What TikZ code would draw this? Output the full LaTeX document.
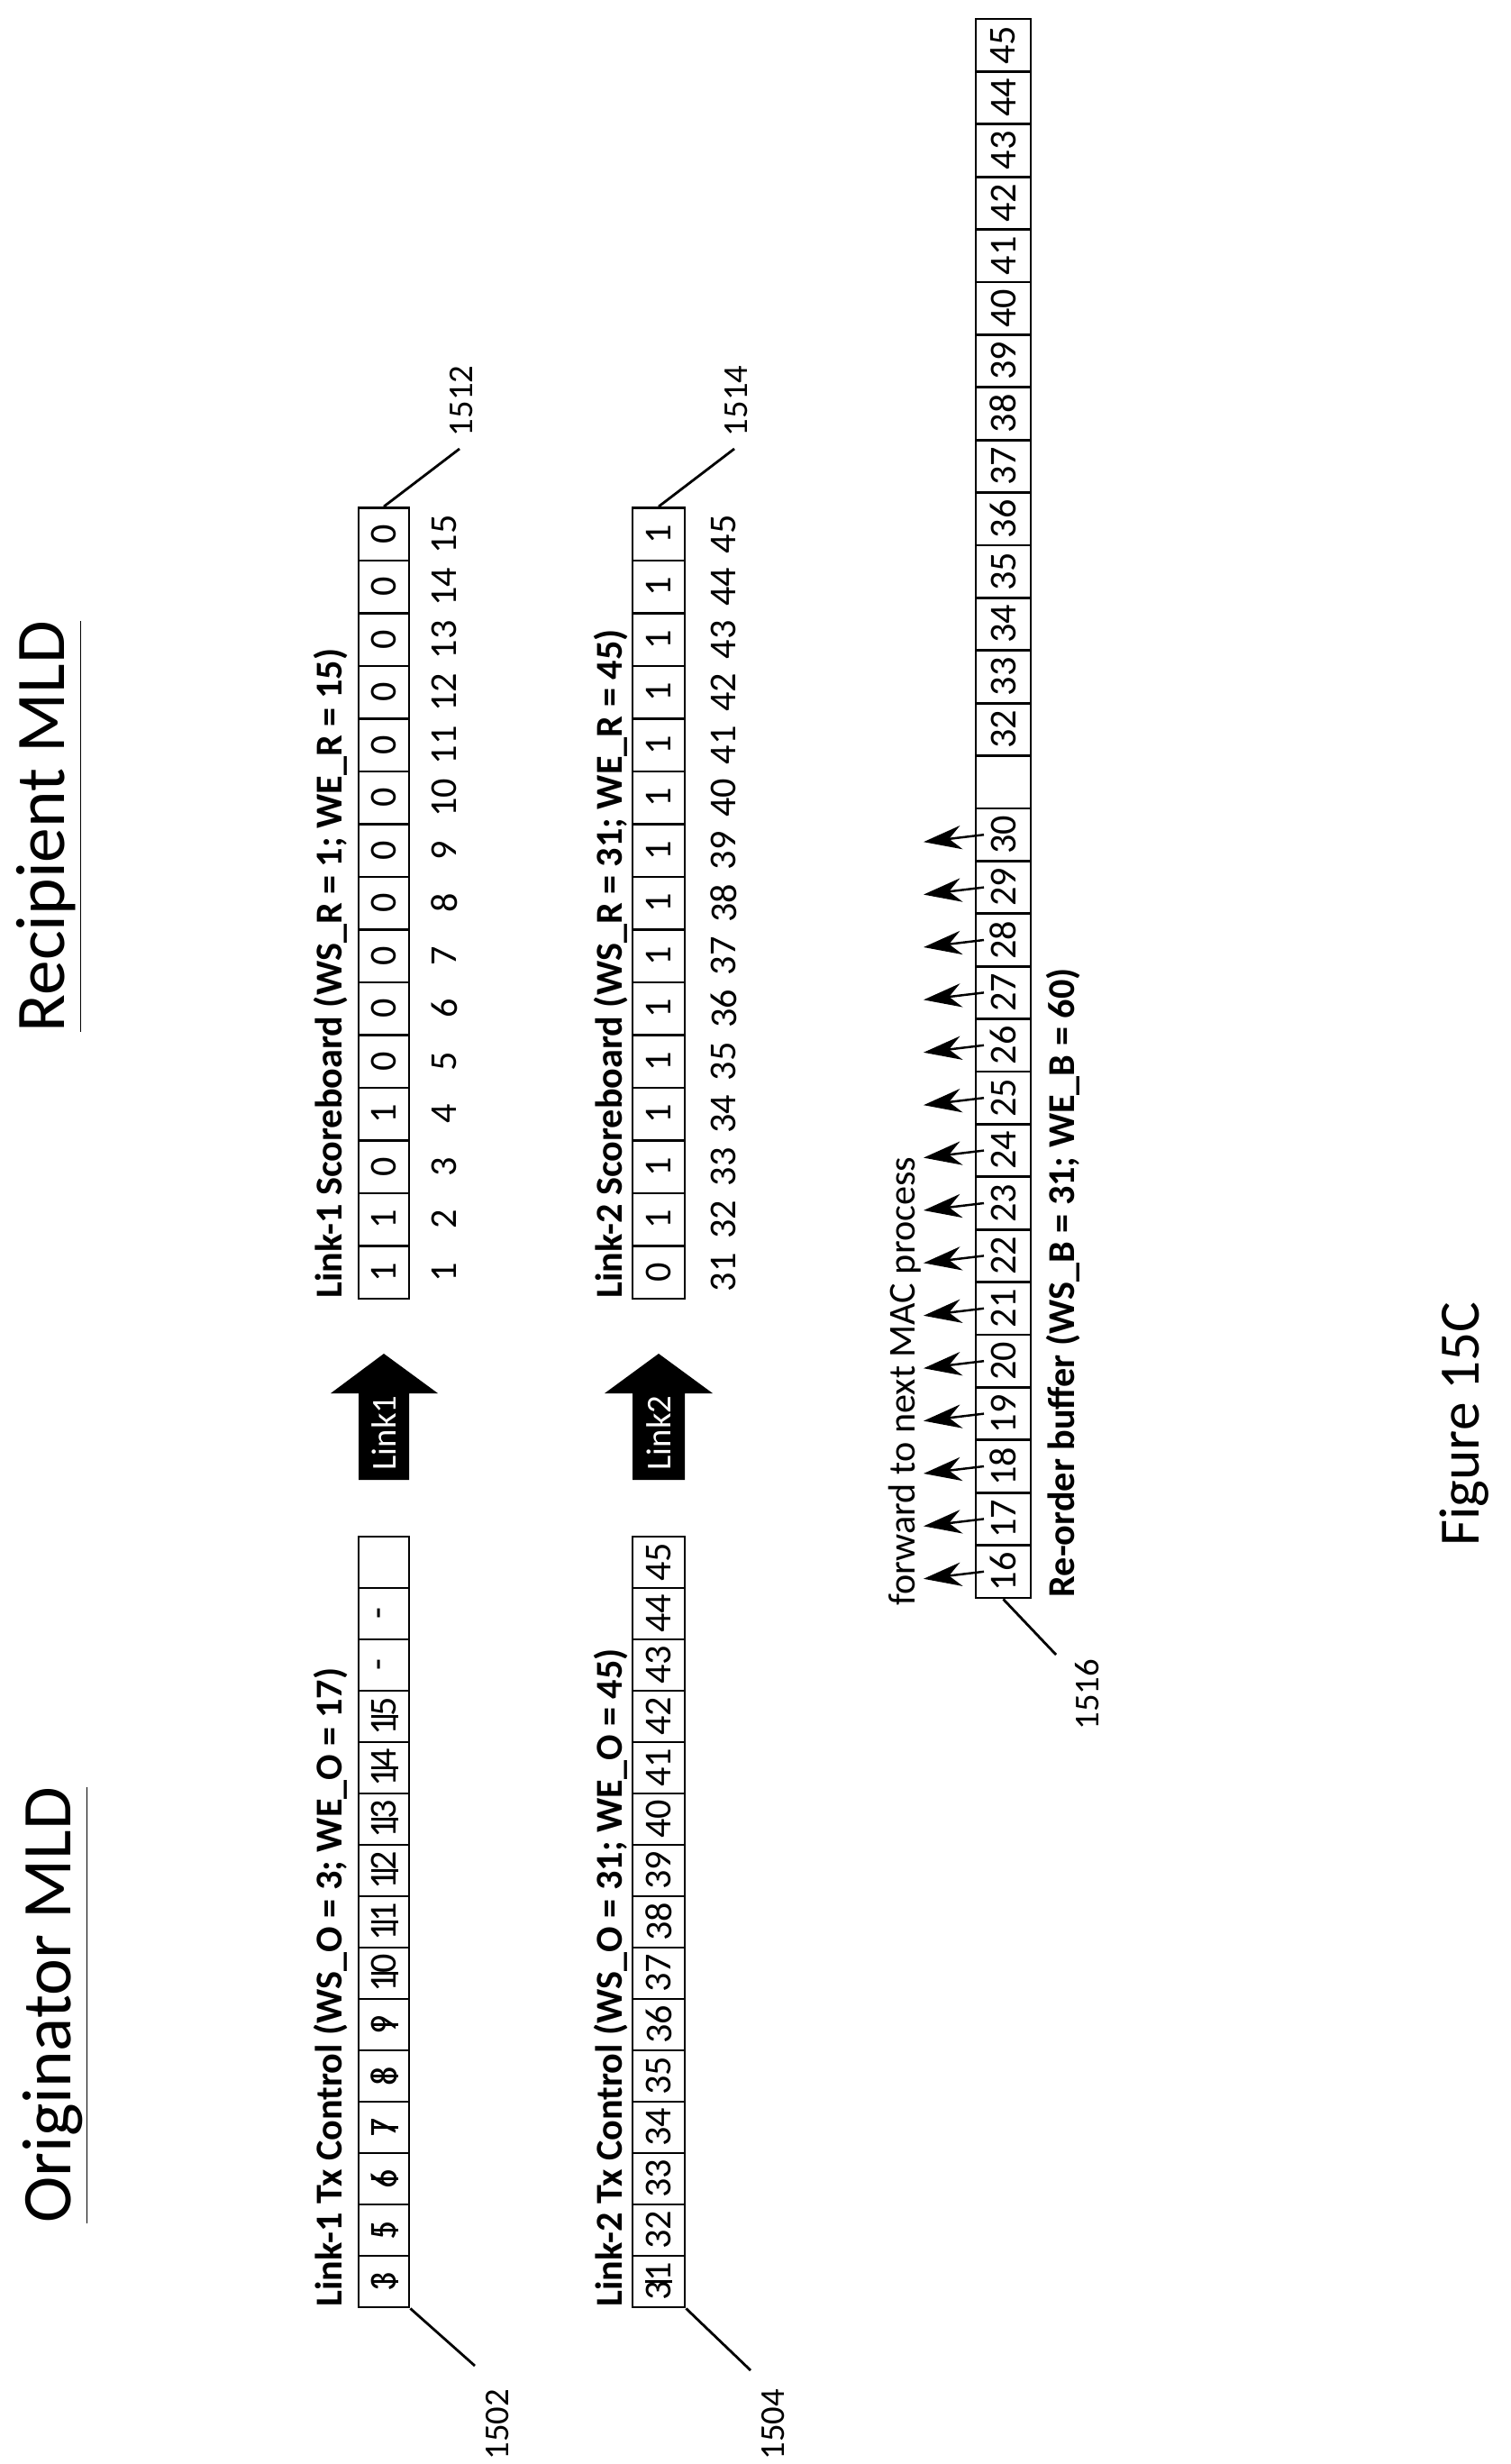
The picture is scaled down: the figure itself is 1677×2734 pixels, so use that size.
\documentclass[tikz,border=0pt]{standalone}
\usepackage{fontspec}
\setmainfont{Carlito}
\usetikzlibrary{arrows.meta,positioning}

\begin{document}
\begin{tikzpicture}[x=0.01cm, y=-0.01cm,
    cellbox/.style={rotate=90, draw, line width=0.8pt, inner sep=0pt, font=\fontsize{12}{14}\selectfont},
    idxnum/.style={rotate=90, inner sep=0pt, font=\fontsize{12}{14}\selectfont},
    boxlabel/.style={rotate=90, anchor=west, inner sep=0pt, font=\bfseries\fontsize{12}{14}\selectfont},
    refnum/.style={rotate=90, inner sep=1pt, font=\fontsize{11}{13}\selectfont},
    leader/.style={line width=0.8pt},
    strike/.style={line width=0.7pt},
    fwd/.style={-{Stealth[length=12pt, width=7.5pt]}, line width=0.7pt},
    title/.style={rotate=90, inner sep=0pt, font=\fontsize{22}{26}\selectfont}
]
\useasboundingbox (0,0) rectangle (1677,2734);

% Titles
\node[title] (orig) at (62,2225) {\underline{Originator MLD}};
\node[title] (recip) at (55,917) {\underline{Recipient MLD}};
\node[title, font=\fontsize{18}{22}\selectfont] (fig) at (1625,1580) {Figure 15C};

% Link-1 Tx Control
\node[boxlabel] (txlbl1) at (367,2560) {Link-1 Tx Control (WS\_O = 3; WE\_O = 17)};
\foreach \v [count=\i from 0] in {3,5,6,7,8,9,10,11,12,13,14,15,-,-,{}}
  \node[cellbox, minimum width=5.7mm, minimum height=5.6mm] (txa\i) at (426,{2560-57*(\i+0.5)}) {\v};
\foreach \i in {0,...,11}
  \draw[strike] (412,{2560-57*(\i+0.5)}) -- (442,{2560-57*(\i+0.5)});

% Link-2 Tx Control
\node[boxlabel] (txlbl2) at (678,2560) {Link-2 Tx Control (WS\_O = 31; WE\_O = 45)};
\foreach \v [count=\i from 0] in {31,32,33,34,35,36,37,38,39,40,41,42,43,44,45}
  \node[cellbox, minimum width=5.7mm, minimum height=5.8mm] (txb\i) at (731,{2560-57*(\i+0.5)}) {\v};
\draw[strike] (716,2531.5) -- (746,2531.5);

% Reference numbers, originator side
\node[refnum] (r1502) at (552,2690) {1502};
\node[refnum] (r1504) at (858,2690) {1504};
\draw[leader] (txa0.south west) -- (527,2625);
\draw[leader] (txb0.south west) -- (833,2630);

% Link arrows
\fill (398,1642) -- (398,1546) -- (367,1546) -- (426,1502) -- (486,1546) -- (454,1546) -- (454,1642) -- cycle;
\node[rotate=90, text=white, font=\fontsize{11}{13}\selectfont] (lk1) at (426,1590) {Link1};
\fill (702,1642) -- (702,1546) -- (671,1546) -- (731,1502) -- (791,1546) -- (760,1546) -- (760,1642) -- cycle;
\node[rotate=90, text=white, font=\fontsize{11}{13}\selectfont] (lk2) at (731,1590) {Link2};

% Link-1 Scoreboard
\node[boxlabel] (sblbl1) at (367,1441) {Link-1 Scoreboard (WS\_R = 1; WE\_R = 15)};
\foreach \v [count=\i from 0] in {1,1,0,1,0,0,0,0,0,0,0,0,0,0,0} {
  \node[cellbox, minimum width=5.85mm, minimum height=5.6mm] (sba\i) at (426,{1441-58.5*(\i+0.5)}) {\v};
  \node[idxnum] (ixa\i) at (493,{1441-58.5*(\i+0.5)}) {\the\numexpr\i+1\relax};
}

% Link-2 Scoreboard
\node[boxlabel] (sblbl2) at (678,1441) {Link-2 Scoreboard (WS\_R = 31; WE\_R = 45)};
\foreach \v [count=\i from 0] in {0,1,1,1,1,1,1,1,1,1,1,1,1,1,1} {
  \node[cellbox, minimum width=5.85mm, minimum height=5.8mm] (sbb\i) at (731,{1441-58.5*(\i+0.5)}) {\v};
  \node[idxnum] (ixb\i) at (803,{1441-58.5*(\i+0.5)}) {\the\numexpr\i+31\relax};
}

% Reference numbers, recipient side
\node[refnum] (r1512) at (512,445) {1512};
\node[refnum] (r1514) at (817,445) {1514};
\draw[leader] (sba14.east) -- (510,498);
\draw[leader] (sbb14.east) -- (815,498);

% Re-order buffer
\node[boxlabel] (rblbl) at (1180,1773) {Re-order buffer (WS\_B = 31; WE\_B = 60)};
\foreach \v [count=\i from 0] in {16,17,18,19,20,21,22,23,24,25,26,27,28,29,30,{},32,33,34,35,36,37,38,39,40,41,42,43,44,45}
  \node[cellbox, minimum width=5.84mm, minimum height=6.1mm] (rb\i) at (1113.5,{1773-58.4*(\i+0.5)}) {\v};
\node[rotate=90, anchor=west, inner sep=0pt, font=\fontsize{12}{14}\selectfont] (fwdlbl) at (1004,1782) {forward to next MAC process};
\foreach \i in {0,...,14}
  \draw[fwd] (1092,{1773-58.4*(\i+0.5)}) -- (1025,{1773-58.4*(\i+0.5)+8});
\node[refnum] (r1516) at (1207,1880) {1516};
\draw[leader] (rb0.west) -- (1172,1836);
\end{tikzpicture}
\end{document}
